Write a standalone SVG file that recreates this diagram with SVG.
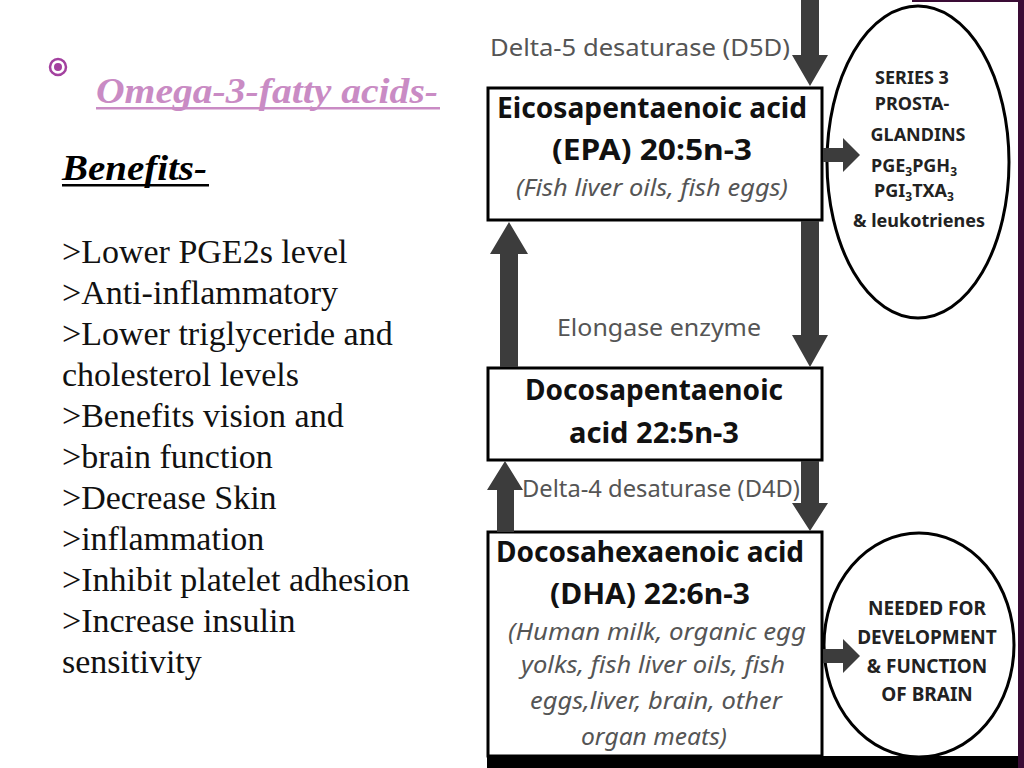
<svg xmlns="http://www.w3.org/2000/svg" width="1024" height="768" viewBox="0 0 1024 768">
<defs>
<style>
.serif{font-family:"Liberation Serif","Times New Roman",serif}
.list{font-family:"Liberation Serif",serif;font-size:34px;fill:#111}
.bold{font-family:"Noto Sans","Open Sans",sans-serif;font-weight:bold;font-size:29px;fill:#111;text-anchor:middle}
.ital{font-family:"Noto Sans","Open Sans",sans-serif;font-style:italic;font-size:24px;fill:#555;text-anchor:middle}
.enz{font-family:"Noto Sans","Open Sans",sans-serif;font-size:24px;fill:#555}
.caps{font-family:"Noto Sans","Open Sans",sans-serif;font-weight:bold;font-size:18px;fill:#222;text-anchor:middle}
.caps2{font-family:"Noto Sans","Open Sans",sans-serif;font-weight:bold;font-size:19px;fill:#222;text-anchor:middle}
.box{fill:#fff;stroke:#000;stroke-width:3}
.ell{fill:#fff;stroke:#000;stroke-width:3}
.arr{fill:#3c3c3c}
</style>
</defs>
<rect width="1024" height="768" fill="#fff"/>
<g id="frame">
<rect x="1018" y="0" width="6" height="768" fill="#3a0c35"/>
<rect x="912" y="0" width="112" height="2" fill="#3a0c35"/>
<rect x="487" y="756" width="531" height="12" fill="#000"/>
</g>
<g id="title">
<circle cx="58" cy="67" r="8" fill="none" stroke="#a3419f" stroke-width="2.5"/>
<circle cx="58" cy="67" r="4" fill="#a3419f"/>
<text class="serif" x="96" y="103" font-size="35" font-weight="bold" font-style="italic" fill="#c98bc4" textLength="342" lengthAdjust="spacingAndGlyphs">Omega-3-fatty acids-</text>
<rect x="96" y="107" width="344" height="2.5" fill="#c98bc4"/>
</g>
<g id="benefits">
<text class="serif" x="62" y="180" font-size="35" font-weight="bold" font-style="italic" fill="#000" textLength="145" lengthAdjust="spacingAndGlyphs">Benefits-</text>
<rect x="62" y="184" width="147" height="2.5" fill="#000"/>
<text class="list" x="62" y="263">&gt;Lower PGE2s level</text>
<text class="list" x="62" y="304">&gt;Anti-inflammatory</text>
<text class="list" x="62" y="345">&gt;Lower triglyceride and</text>
<text class="list" x="62" y="386">cholesterol levels</text>
<text class="list" x="62" y="427">&gt;Benefits vision and</text>
<text class="list" x="62" y="468">&gt;brain function</text>
<text class="list" x="62" y="509">&gt;Decrease Skin</text>
<text class="list" x="62" y="550">&gt;inflammation</text>
<text class="list" x="62" y="591">&gt;Inhibit platelet adhesion</text>
<text class="list" x="62" y="632">&gt;Increase insulin</text>
<text class="list" x="62" y="673">sensitivity</text>
</g>
<g id="label-d5d"><text class="enz" x="490" y="56" textLength="300" lengthAdjust="spacingAndGlyphs">Delta-5 desaturase (D5D)</text></g>
<g id="label-elongase"><text class="enz" x="557" y="336" textLength="204" lengthAdjust="spacingAndGlyphs">Elongase enzyme</text></g>
<g id="label-d4d"><text class="enz" x="522" y="497" textLength="278" lengthAdjust="spacingAndGlyphs">Delta-4 desaturase (D4D)</text></g>
<g id="epa">
<rect class="box" x="488" y="88" width="334" height="132"/>
<text class="bold" x="652" y="118" textLength="310" lengthAdjust="spacingAndGlyphs">Eicosapentaenoic acid</text>
<text class="bold" x="652" y="160" textLength="200" lengthAdjust="spacingAndGlyphs">(EPA) 20:5n-3</text>
<text class="ital" x="652" y="196" textLength="272" lengthAdjust="spacingAndGlyphs">(Fish liver oils, fish eggs)</text>
</g>
<g id="dpa">
<rect class="box" x="488" y="368" width="334" height="92"/>
<text class="bold" x="654" y="400" textLength="258" lengthAdjust="spacingAndGlyphs">Docosapentaenoic</text>
<text class="bold" x="654" y="443" textLength="170" lengthAdjust="spacingAndGlyphs">acid 22:5n-3</text>
</g>
<g id="dha">
<rect class="box" x="488" y="532" width="334" height="224"/>
<text class="bold" x="650" y="562" textLength="308" lengthAdjust="spacingAndGlyphs">Docosahexaenoic acid</text>
<text class="bold" x="650" y="604" textLength="200" lengthAdjust="spacingAndGlyphs">(DHA) 22:6n-3</text>
<text class="ital" x="657" y="640" textLength="298" lengthAdjust="spacingAndGlyphs">(Human milk, organic egg</text>
<text class="ital" x="653" y="673" textLength="264" lengthAdjust="spacingAndGlyphs">yolks, fish liver oils, fish</text>
<text class="ital" x="656" y="709" textLength="252" lengthAdjust="spacingAndGlyphs">eggs,liver, brain, other</text>
<text class="ital" x="654" y="745" textLength="146" lengthAdjust="spacingAndGlyphs">organ meats)</text>
</g>
<g id="prostaglandins">
<ellipse class="ell" cx="918" cy="162" rx="91" ry="156"/>
<text class="caps" x="912" y="84">SERIES 3</text>
<text class="caps" x="912" y="110">PROSTA-</text>
<text class="caps" x="918" y="141">GLANDINS</text>
<text class="caps" x="914" y="172">PGE<tspan font-size="12" dy="4">3</tspan><tspan dy="-4">PGH</tspan><tspan font-size="12" dy="4">3</tspan></text>
<text class="caps" x="914" y="197">PGI<tspan font-size="12" dy="4">3</tspan><tspan dy="-4">TXA</tspan><tspan font-size="12" dy="4">3</tspan></text>
<text class="caps" x="919" y="227">&amp; leukotrienes</text>
</g>
<g id="brain">
<ellipse class="ell" cx="919" cy="645" rx="95" ry="112"/>
<text class="caps2" x="927" y="615">NEEDED FOR</text>
<text class="caps2" x="927" y="644">DEVELOPMENT</text>
<text class="caps2" x="927" y="673">&amp; FUNCTION</text>
<text class="caps2" x="927" y="701">OF BRAIN</text>
</g>
<g id="connectors">
<polygon class="arr" points="801,0 819,0 819,55 828,55 810,86 792,55 801,55"/>
<polygon class="arr" points="801,221 819,221 819,335 828,335 810,367 792,335 801,335"/>
<polygon class="arr" points="801,461 819,461 819,503 828,503 810,531 792,503 801,503"/>
<polygon class="arr" points="500,367 518,367 518,254 528,254 509,222 490,254 500,254"/>
<polygon class="arr" points="497,532 514,532 514,490 523,490 505,461 487,490 497,490"/>
<polygon class="arr" points="823,148 843,148 843,138 860,155 843,172 843,162 823,162"/>
<polygon class="arr" points="823,649 843,649 843,639 860,656 843,673 843,663 823,663"/>
</g>
</svg>
